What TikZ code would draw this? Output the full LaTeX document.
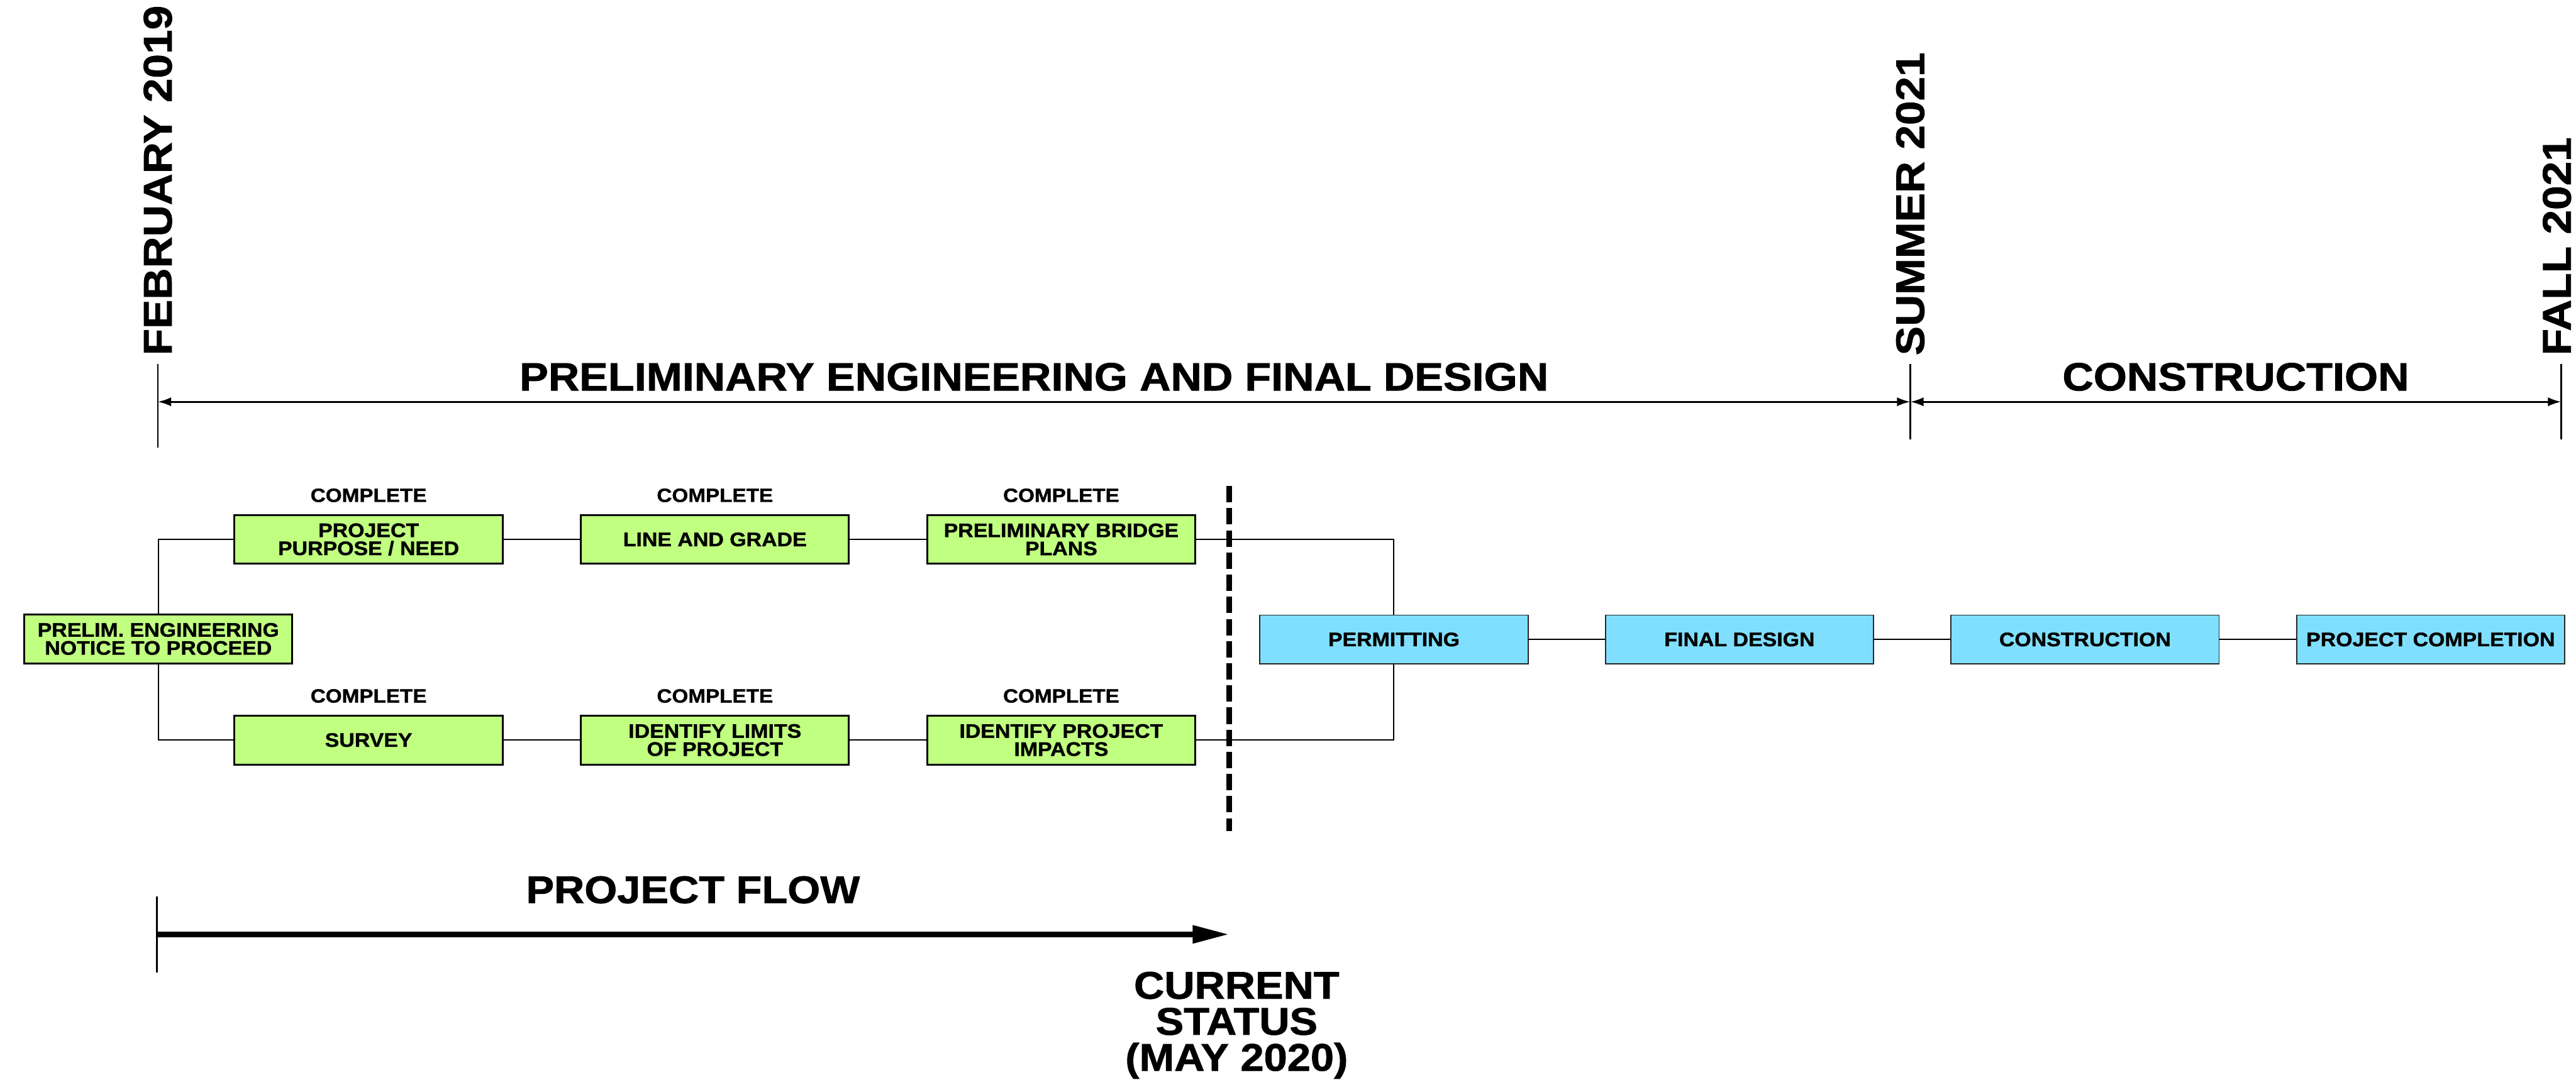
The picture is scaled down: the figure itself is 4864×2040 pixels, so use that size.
\documentclass[tikz,border=0pt]{standalone}
\usepackage{fontspec}
\setmainfont{Liberation Sans}[FakeStretch=1.09,FakeBold=1.2]
\usepackage{tikz}
\usetikzlibrary{arrows.meta,positioning,calc}

\definecolor{donegreen}{RGB}{192,255,128}
\definecolor{nextblue}{RGB}{128,223,255}

\begin{document}
\begin{tikzpicture}[x=0.01cm,y=-0.01cm,
    task/.style={draw=black, line width=1pt, fill=donegreen, minimum width=5.06cm, minimum height=0.92cm,
        inner sep=0pt, align=center, font=\bfseries\fontsize{10.5}{9.7}\selectfont},
    future/.style={task, draw=black!85, line width=0.6pt, fill=nextblue},
    status/.style={font=\bfseries\fontsize{10.3}{10}\selectfont, inner sep=0pt},
    link/.style={line width=0.7pt},
    tick/.style={line width=0.85pt},
    dimline/.style={line width=0.95pt, {Latex[length=0.25cm,width=0.17cm]}-{Latex[length=0.25cm,width=0.17cm]}},
    datelabel/.style={font=\bfseries\fontsize{21.5}{21.5}\selectfont, rotate=90, anchor=west, inner sep=0pt},
    phaselabel/.style={font=\bfseries\fontsize{21.2}{21.2}\selectfont, inner sep=0pt}]

    \useasboundingbox (0,0) rectangle (4864,2040);

    % Timeline
    \coordinate (feb) at (298,759);
    \coordinate (summer) at (3607,759);
    \coordinate (fall) at (4836,759);
    \draw[tick] (298,688) -- (298,845);
    \draw[tick] (3607,688) -- (3607,830);
    \draw[tick] (4836,688) -- (4836,830);
    \node[datelabel] (febtxt) at (298,672) {FEBRUARY 2019};
    \node[datelabel] (summertxt) at (3607,672) {SUMMER 2021};
    \node[datelabel] (falltxt) at (4828,672) {FALL 2021};

    \draw[dimline] (feb) -- (summer)
        node[phaselabel, midway, above=0.19cm] (design) {PRELIMINARY ENGINEERING AND FINAL DESIGN};
    \draw[dimline] (summer) -- (fall)
        node[phaselabel, midway, above=0.19cm] (build) {CONSTRUCTION};

    % Completed tasks
    \node[task] (ntp) at (299,1207) {PRELIM. ENGINEERING\\NOTICE TO PROCEED};
    \node[task] (need) at (696,1019) {PROJECT\\PURPOSE / NEED};
    \node[task, right=1.44cm of need] (grade) {LINE AND GRADE};
    \node[task, right=1.44cm of grade] (bridge) {PRELIMINARY BRIDGE\\PLANS};
    \node[task] (survey) at (696,1398) {SURVEY};
    \node[task, right=1.44cm of survey] (limits) {IDENTIFY LIMITS\\OF PROJECT};
    \node[task, right=1.44cm of limits] (impacts) {IDENTIFY PROJECT\\IMPACTS};
    \foreach \t in {need,grade,bridge,survey,limits,impacts} {
        \node[status, above=0.22cm of \t] {COMPLETE};
    }

    % Remaining tasks
    \node[future] (permit) at (2632,1208) {PERMITTING};
    \node[future, right=1.44cm of permit] (final) {FINAL DESIGN};
    \node[future, right=1.44cm of final] (constr) {CONSTRUCTION};
    \node[future, right=1.44cm of constr] (done) {PROJECT COMPLETION};

    % Links
    \draw[link] (ntp.north) |- (need.west);
    \draw[link] (ntp.south) |- (survey.west);
    \draw[link] (need) -- (grade);
    \draw[link] (grade) -- (bridge);
    \draw[link] (survey) -- (limits);
    \draw[link] (limits) -- (impacts);
    \draw[link] (bridge.east) -| (permit.north);
    \draw[link] (impacts.east) -| (permit.south);
    \draw[link] (permit) -- (final);
    \draw[link] (final) -- (constr);
    \draw[link] (constr) -- (done);

    % Current status
    \coordinate (flowstart) at (296,1765);
    \coordinate (flowend) at (2321,1765);
    \draw[line width=2.85pt, dash pattern=on 8.8pt off 3.1pt] (2321,918) -- (2321,1570);
    \draw[line width=1.1pt] (296,1693) -- (296,1837);
    \draw[line width=3pt, -{Triangle[length=0.69cm,width=0.32cm]}] (flowstart) -- (flowend)
        node[phaselabel, font=\bfseries\fontsize{20.7}{20.7}\selectfont, midway, above=0.53cm] (flow) {PROJECT FLOW};
    \node[font=\bfseries\fontsize{20.7}{19.35}\selectfont, align=center, anchor=north, inner sep=0pt] (now)
        at (2335,1835) {CURRENT\\STATUS\\(MAY 2020)};
\end{tikzpicture}
\end{document}
